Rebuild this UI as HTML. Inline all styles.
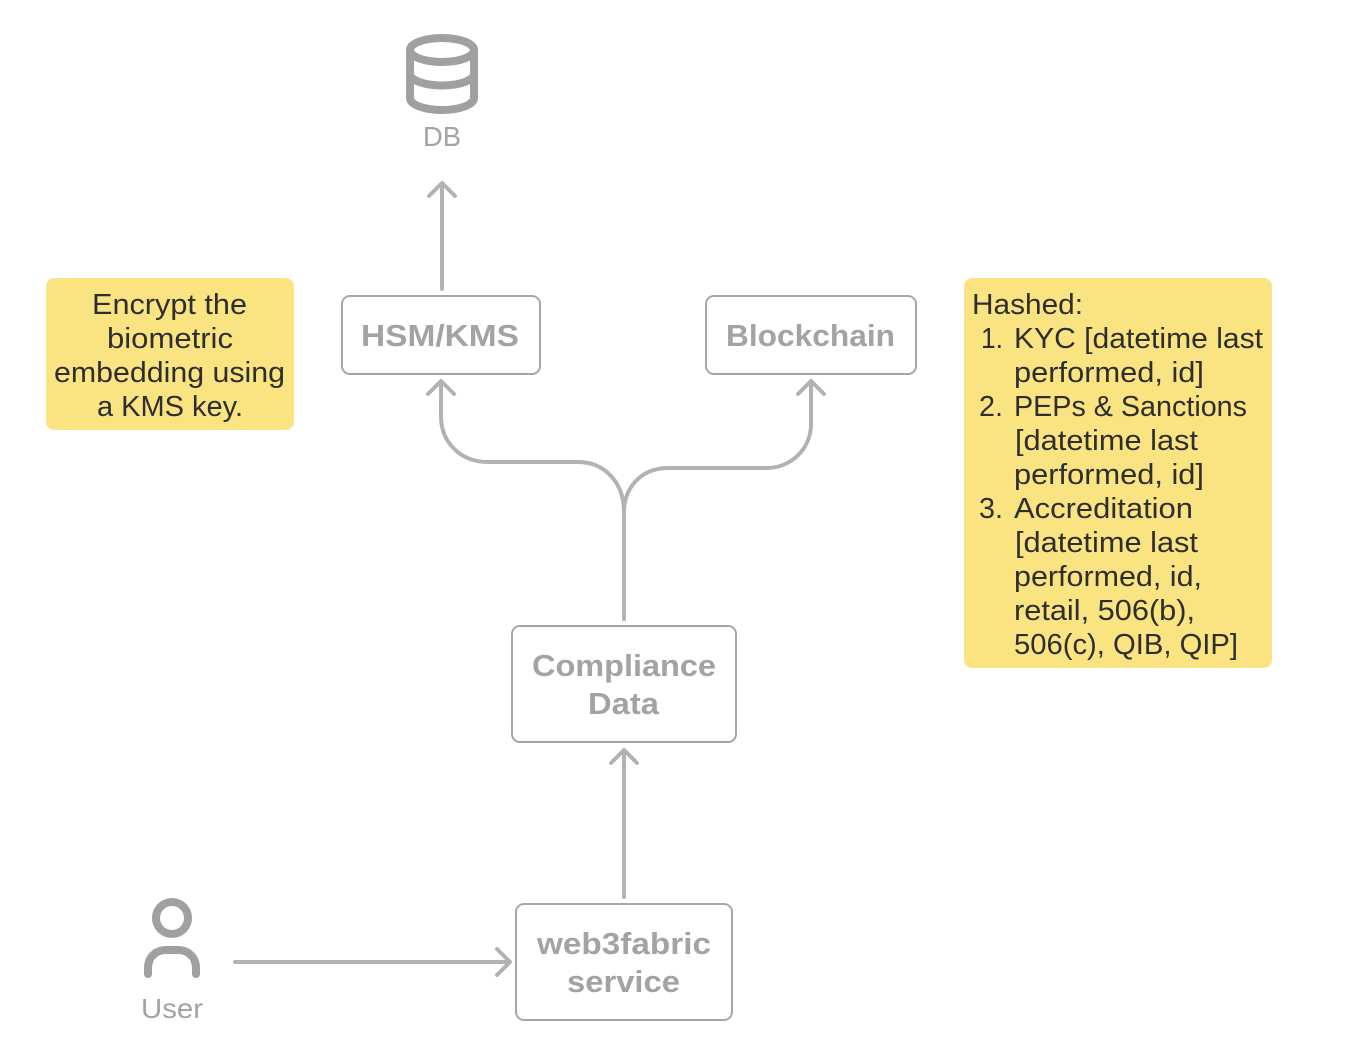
<!DOCTYPE html>
<html lang="en">
<head>
<meta charset="utf-8">
<title>Compliance data diagram</title>
<style>
html,body{margin:0;padding:0;background:#fff;width:1354px;height:1062px;overflow:hidden}
svg{display:block}
text{font-family:"Liberation Sans",sans-serif}
.n{font-size:29px;fill:#2e2e2e}
.b{font-size:31px;font-weight:700;fill:#a3a3a3}
.l{font-size:28px;fill:#a3a3a3}
.box{fill:#fff;stroke:#a6a6a6;stroke-width:2}
.c{fill:none;stroke:#b2b2b2;stroke-width:4;stroke-linecap:round;stroke-linejoin:round}
.i{fill:none;stroke:#a0a0a0;stroke-width:8;stroke-linecap:round;stroke-linejoin:round}
</style>
</head>
<body>
<svg width="1354" height="1062" viewBox="0 0 1354 1062" xmlns="http://www.w3.org/2000/svg">
<rect width="1354" height="1062" fill="#fff"/>

<!-- notes -->
<rect x="46" y="278" width="248" height="152" rx="8" fill="#fae482"/>
<rect x="964" y="278" width="308" height="390" rx="8" fill="#fae482"/>

<text class="n" x="92" y="314" textLength="155" lengthAdjust="spacingAndGlyphs">Encrypt the</text>
<text class="n" x="107" y="348" textLength="126" lengthAdjust="spacingAndGlyphs">biometric</text>
<text class="n" x="54" y="382" textLength="231" lengthAdjust="spacingAndGlyphs">embedding using</text>
<text class="n" x="97" y="416" textLength="146" lengthAdjust="spacingAndGlyphs">a KMS key.</text>

<text class="n" x="972" y="314" textLength="111" lengthAdjust="spacingAndGlyphs">Hashed:</text>
<text class="n" x="981" y="348" textLength="22" lengthAdjust="spacingAndGlyphs">1.</text>
<text class="n" x="1014" y="348" textLength="249" lengthAdjust="spacingAndGlyphs">KYC [datetime last</text>
<text class="n" x="1014" y="382" textLength="190" lengthAdjust="spacingAndGlyphs">performed, id]</text>
<text class="n" x="979" y="416" textLength="24" lengthAdjust="spacingAndGlyphs">2.</text>
<text class="n" x="1014" y="416" textLength="233" lengthAdjust="spacingAndGlyphs">PEPs &amp; Sanctions</text>
<text class="n" x="1015" y="450" textLength="183" lengthAdjust="spacingAndGlyphs">[datetime last</text>
<text class="n" x="1014" y="484" textLength="190" lengthAdjust="spacingAndGlyphs">performed, id]</text>
<text class="n" x="979" y="518" textLength="24" lengthAdjust="spacingAndGlyphs">3.</text>
<text class="n" x="1014" y="518" textLength="179" lengthAdjust="spacingAndGlyphs">Accreditation</text>
<text class="n" x="1015" y="552" textLength="183" lengthAdjust="spacingAndGlyphs">[datetime last</text>
<text class="n" x="1014" y="586" textLength="188" lengthAdjust="spacingAndGlyphs">performed, id,</text>
<text class="n" x="1014" y="620" textLength="181" lengthAdjust="spacingAndGlyphs">retail, 506(b),</text>
<text class="n" x="1014" y="654" textLength="224" lengthAdjust="spacingAndGlyphs">506(c), QIB, QIP]</text>

<!-- boxes -->
<rect class="box" x="342" y="296" width="198" height="78" rx="8"/>
<rect class="box" x="706" y="296" width="210" height="78" rx="8"/>
<rect class="box" x="512" y="626" width="224" height="116" rx="8"/>
<rect class="box" x="516" y="904" width="216" height="116" rx="8"/>

<text class="b" x="361" y="346" textLength="158" lengthAdjust="spacingAndGlyphs">HSM/KMS</text>
<text class="b" x="726" y="346" textLength="169" lengthAdjust="spacingAndGlyphs">Blockchain</text>
<text class="b" x="532" y="676" textLength="184" lengthAdjust="spacingAndGlyphs">Compliance</text>
<text class="b" x="588" y="714" textLength="71" lengthAdjust="spacingAndGlyphs">Data</text>
<text class="b" x="537" y="954" textLength="174" lengthAdjust="spacingAndGlyphs">web3fabric</text>
<text class="b" x="567" y="992" textLength="113" lengthAdjust="spacingAndGlyphs">service</text>

<!-- connectors -->
<path class="c" d="M442 289V184M429 196L442 183L455 196"/>
<path class="c" d="M624 619V512C624 482 604 462 578 462H488C460 462 441 442 441 416V383M428 394L441 381L454 394"/>
<path class="c" d="M624 619V512C624 487 642 468 668 468H766C792 468 811 448 811 424V383M798 394L811 381L824 394"/>
<path class="c" d="M624 897V751M611 763L624 750L637 763"/>
<path class="c" d="M235 962H508M497 949L510 962L497 975"/>

<!-- DB icon -->
<ellipse class="i" cx="442" cy="50" rx="32" ry="12"/>
<path class="i" d="M410 50V98C410 104.500 424 110 442 110C460 110 474 104.500 474 98V50"/>
<path class="i" d="M410 74C410 80 424 85.500 442 85.500C460 85.500 474 80 474 74"/>
<text class="l" x="423" y="146" textLength="38" lengthAdjust="spacingAndGlyphs">DB</text>

<!-- User icon -->
<circle class="i" cx="172" cy="918" r="16"/>
<path class="i" d="M148 974V968C148 957 156 950 166 950H178C188 950 196 957 196 968V974"/>
<text class="l" x="141" y="1018" textLength="62" lengthAdjust="spacingAndGlyphs">User</text>
</svg>
</body>
</html>
